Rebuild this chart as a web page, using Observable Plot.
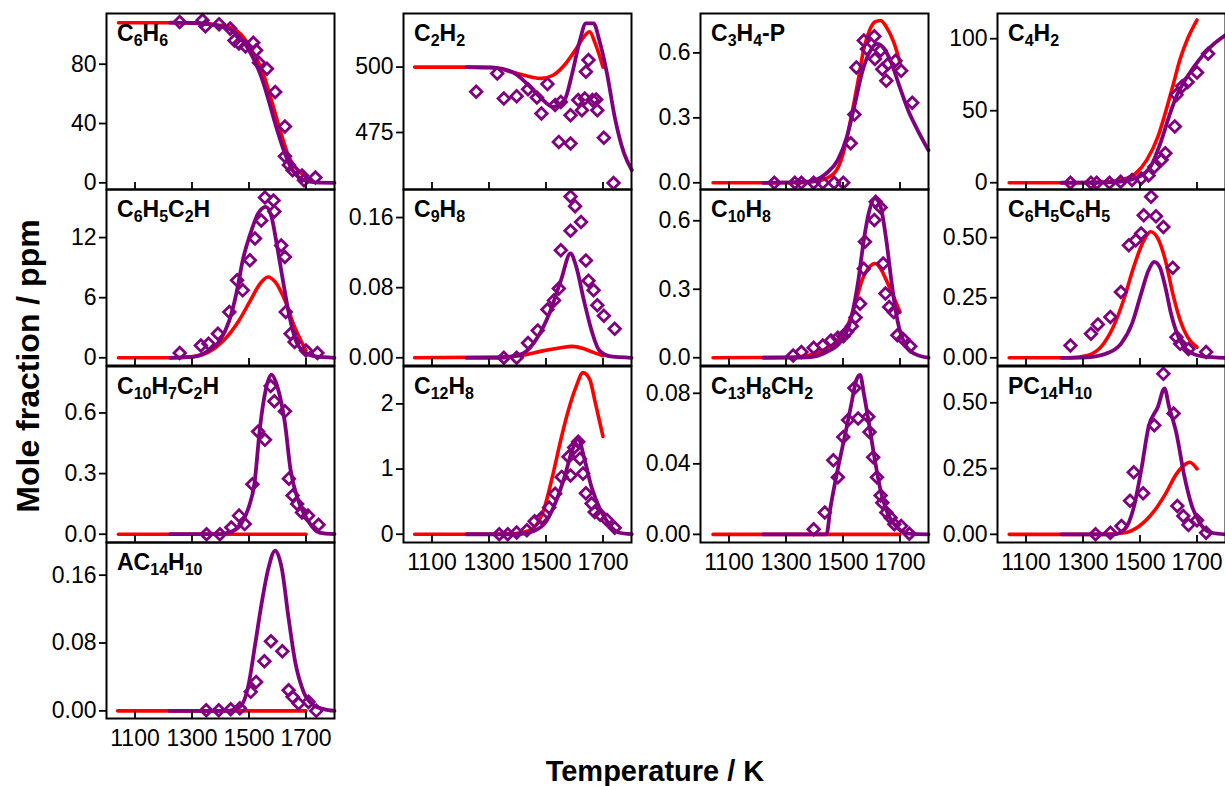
<!DOCTYPE html>
<html><head><meta charset="utf-8">
<script src="https://cdn.jsdelivr.net/npm/d3@7"></script>
<script src="https://cdn.jsdelivr.net/npm/@observablehq/plot@0.6"></script>
<style>
body{margin:0;background:#fff;}
#fig{position:relative;width:1225px;height:786px;overflow:hidden;background:#fff;font-family:"Liberation Sans",Arial,sans-serif;color:#000;}
.panel{position:absolute;}
.title{position:absolute;font-weight:bold;font-size:23px;line-height:23px;white-space:nowrap;}
.title .s{font-size:16px;position:relative;top:5px;}
#ylab{position:absolute;font-weight:bold;font-size:32px;line-height:32px;left:28px;top:366px;transform:translate(-50%,-50%) rotate(-90deg);white-space:nowrap;}
#xlab{position:absolute;font-weight:bold;font-size:29px;line-height:29px;left:655px;top:771px;transform:translate(-50%,-50%);white-space:nowrap;}
</style></head>
<body><div id="fig"></div>
<script>
const titles = ["C_6H_6","C_2H_2","C_3H_4-P","C_4H_2","C_6H_5C_2H","C_9H_8","C_10H_8","C_6H_5C_6H_5","C_10H_7C_2H","C_12H_8","C_13H_8CH_2","PC_14H_10","AC_14H_10"];
const xTicks = [1100,1300,1500,1700];
const xDomain = [1000,1800];
const yTicks = [[0,40,80],[475,500],[0,0.3,0.6],[0,50,100],[0,6,12],[0,0.08,0.16],[0,0.3,0.6],[0,0.25,0.5],[0,0.3,0.6],[0,1,2],[0,0.04,0.08],[0,0.25,0.5],[0,0.08,0.16]];
const yFormats = ["d","d",".1f","d","d",".2f",".1f",".2f",".1f","d",".2f",".2f",".2f"];
const yDomains = [[-4.5,114.2],[453.2,520.5],[-0.031,0.782],[-4.7,117.5],[-0.77,16.8],[-0.0088,0.192],[-0.034,0.737],[-0.032,0.70],[-0.041,0.83],[-0.127,2.574],[-0.0046,0.0952],[-0.031,0.638],[-0.009,0.1985]];
const showXLabels = [false,false,false,false,false,false,false,false,false,true,true,true,true];

// model 1 (red), model 2 (purple), experiment (diamonds): [T (K), mole fraction (ppm)]
const redC6H6 = [[1042,108],[1250,108],[1330,107.6],[1390,106.5],[1438,104.5],[1470,100.5],[1492,95],[1520,86],[1546,76],[1566,64],[1586,51],[1613,33],[1640,17.5],[1660,11],[1680,7],[1700,4]];
const purC6H6 = [[1223,108],[1300,107.8],[1380,106.3],[1438,103],[1470,98],[1492,92],[1515,84],[1539,73.7],[1556,64],[1572,53.5],[1599,35.5],[1626,19.8],[1653,8.5],[1673,4],[1693,1.8],[1733,0.3],[1800,0]];
const expC6H6 = [[1257,108.5],[1337,109.6],[1347,105.6],[1395,107],[1434,104],[1449,96],[1465,94],[1488,92],[1515,94.4],[1525,89.4],[1535,81],[1563,77],[1592,61.3],[1626,38],[1626,18],[1640,12],[1653,8.5],[1686,5],[1693,1.8],[1733,3.6]];

const redC2H2 = [[1039,500],[1215,500],[1309,499.9],[1377,498.2],[1444,496.3],[1484,495.7],[1525,496.9],[1565,500.8],[1606,507],[1633,511.6],[1653,513.5],[1673,509],[1700,500]];
const purC2H2 = [[1221,500],[1323,499.7],[1390,497.6],[1444,492.5],[1484,488],[1525,484.8],[1565,487.4],[1592,497.6],[1619,510.3],[1640,516.7],[1667,516.7],[1687,510.3],[1714,497.6],[1741,481],[1774,467],[1801,460.6]];
const expC2H2 = [[1255,490.6],[1329,497.6],[1352,488],[1397,488.9],[1437,491.5],[1468,488.4],[1484,482.3],[1505,493.5],[1532,485.5],[1552,486.7],[1545,471.4],[1586,481.6],[1586,470.8],[1613,487.4],[1626,483.5],[1636,488],[1649,502.7],[1640,498.2],[1663,487.4],[1676,487.6],[1680,483.5],[1703,473],[1737,455.7]];

const redC3H4 = [[1044,0],[1351,0],[1416,0.009],[1469,0.044],[1501,0.137],[1527,0.292],[1554,0.479],[1573,0.618],[1593,0.704],[1612,0.743],[1632,0.75],[1652,0.72],[1678,0.65],[1700,0.556]];
const purC3H4 = [[1220,0],[1377,0.005],[1442,0.044],[1482,0.106],[1514,0.214],[1540,0.354],[1567,0.51],[1593,0.603],[1619,0.642],[1645,0.618],[1671,0.55],[1697,0.45],[1730,0.33],[1763,0.24],[1800,0.15]];
const expC3H4 = [[1259,0],[1331,0],[1354,0],[1397,0],[1429,0],[1469,0],[1501,0],[1527,0.183],[1540,0.315],[1547,0.533],[1573,0.657],[1584,0.618],[1610,0.677],[1612,0.572],[1632,0.611],[1638,0.525],[1652,0.471],[1658,0.549],[1684,0.564],[1704,0.517],[1743,0.37]];

const redC4H2 = [[1041,0],[1300,0],[1380,0.4],[1432,1.9],[1485,6.5],[1524,15.9],[1563,32],[1589,48.6],[1615,67],[1641,86],[1667,100],[1693,110.5],[1700,113]];
const purC4H2 = [[1224,0],[1380,0.2],[1432,0.7],[1498,4.2],[1537,11.2],[1576,30],[1602,46],[1628,60],[1667,74],[1706,85],[1746,94],[1800,102.5]];
const expC4H2 = [[1256,0],[1328,0],[1348,0],[1393,0],[1432,0.7],[1472,1.9],[1504,3],[1530,5],[1550,11],[1576,16],[1589,20.5],[1622,39],[1628,61],[1648,67],[1667,70],[1700,76.5],[1739,89.5]];

const redC6H5C2H = [[1042,0],[1223,0],[1304,0.13],[1358,0.57],[1411,1.73],[1465,3.73],[1505,5.73],[1539,7.4],[1566,8.07],[1592,7.57],[1626,5.73],[1660,3.07],[1700,0.73]];
const purC6H5C2H = [[1223,0],[1304,0.1],[1358,0.73],[1398,1.73],[1431,3.73],[1458,6.73],[1478,9.73],[1505,12.4],[1532,14.4],[1559,15.07],[1579,14.07],[1599,11.07],[1619,7.73],[1640,4.4],[1660,2.07],[1693,0.57],[1733,0.13],[1800,0]];
const expC6H5C2H = [[1257,0.47],[1331,1.23],[1358,1.4],[1391,2.4],[1431,4.57],[1458,7.73],[1478,6.73],[1503,9.73],[1521,11.9],[1543,13.7],[1556,16],[1586,15.7],[1589,14.6],[1613,11.2],[1626,10.07],[1629,4.57],[1646,2.4],[1660,1.57],[1700,0.73],[1740,0.47]];

const redC9H8 = [[1039,0],[1336,0.0008],[1417,0.0027],[1484,0.0076],[1552,0.0114],[1592,0.013],[1633,0.0103],[1673,0.0053],[1700,0.0023]];
const purC9H8 = [[1221,0],[1336,0],[1417,0.0046],[1471,0.0236],[1511,0.05],[1552,0.088],[1586,0.119],[1606,0.104],[1633,0.0655],[1660,0.031],[1687,0.0084],[1727,0.0015],[1800,0]];
const expC9H8 = [[1352,0],[1397,0],[1437,0.0168],[1471,0.031],[1505,0.055],[1528,0.0655],[1545,0.079],[1552,0.1227],[1586,0.145],[1586,0.184],[1602,0.173],[1623,0.155],[1640,0.111],[1649,0.088],[1667,0.077],[1680,0.06],[1703,0.048],[1741,0.033]];

const redC10H8 = [[1044,0],[1312,0.002],[1377,0.01],[1442,0.04],[1482,0.076],[1514,0.135],[1540,0.222],[1567,0.34],[1593,0.398],[1612,0.413],[1632,0.39],[1652,0.34],[1678,0.266],[1700,0.2]];
const purC10H8 = [[1220,0],[1377,0.002],[1442,0.025],[1495,0.076],[1527,0.164],[1554,0.34],[1573,0.515],[1593,0.647],[1612,0.698],[1632,0.661],[1652,0.515],[1671,0.325],[1691,0.164],[1717,0.061],[1750,0.018],[1800,0]];
const expC10H8 = [[1325,0.01],[1354,0.025],[1397,0.044],[1429,0.054],[1458,0.076],[1482,0.088],[1501,0.094],[1514,0.113],[1531,0.138],[1544,0.176],[1560,0.237],[1573,0.39],[1577,0.508],[1610,0.603],[1615,0.683],[1632,0.658],[1641,0.413],[1649,0.281],[1662,0.222],[1678,0.2],[1691,0.098],[1710,0.083],[1736,0.05]];

const redC6H5C6H5 = [[1041,0],[1250,0],[1315,0.01],[1367,0.051],[1406,0.128],[1446,0.253],[1478,0.378],[1511,0.482],[1537,0.524],[1563,0.496],[1589,0.406],[1615,0.267],[1641,0.156],[1667,0.086],[1700,0.044]];
const purC6H5C6H5 = [[1224,0],[1315,0.002],[1380,0.017],[1433,0.058],[1472,0.142],[1504,0.267],[1530,0.364],[1550,0.399],[1569,0.378],[1589,0.294],[1609,0.183],[1635,0.086],[1667,0.031],[1719,0.006],[1800,0]];
const expC6H5C6H5 = [[1256,0.051],[1328,0.1],[1352,0.139],[1396,0.17],[1433,0.274],[1461,0.468],[1485,0.489],[1504,0.517],[1513,0.593],[1539,0.67],[1556,0.589],[1582,0.544],[1615,0.375],[1628,0.086],[1641,0.058],[1670,0.037],[1732,0.024]];

const redC10H7C2H = [[1042,0],[1700,0]];
const purC10H7C2H = [[1223,0],[1398,0],[1438,0.013],[1472,0.05],[1499,0.133],[1519,0.25],[1539,0.533],[1559,0.717],[1579,0.79],[1599,0.733],[1626,0.55],[1646,0.317],[1673,0.167],[1707,0.067],[1747,0.008],[1800,0]];
const expC10H7C2H = [[1351,0],[1398,0],[1438,0.033],[1465,0.092],[1485,0.05],[1512,0.247],[1532,0.508],[1556,0.467],[1576,0.733],[1589,0.658],[1626,0.608],[1640,0.275],[1653,0.192],[1669,0.15],[1686,0.108],[1707,0.092],[1744,0.047]];

const redC12H8 = [[1039,0],[1336,0],[1417,0.026],[1457,0.1],[1491,0.36],[1525,0.93],[1552,1.45],[1579,1.91],[1606,2.27],[1630,2.48],[1653,2.38],[1673,2.02],[1700,1.5]];
const purC12H8 = [[1221,0],[1403,0],[1457,0.05],[1498,0.18],[1532,0.47],[1565,0.88],[1592,1.29],[1613,1.47],[1633,1.19],[1660,0.72],[1687,0.41],[1721,0.155],[1754,0.026],[1801,0]];
const expC12H8 = [[1336,0],[1366,0],[1397,0.026],[1433,0.062],[1460,0.2],[1484,0.25],[1511,0.41],[1532,0.62],[1555,0.88],[1579,1.19],[1586,0.9],[1599,1.33],[1613,1.42],[1619,1.16],[1630,0.93],[1640,0.63],[1660,0.47],[1671,0.34],[1690,0.3],[1714,0.22],[1741,0.1]];

const redC13H8CH2 = [[1044,0],[1700,0]];
const purC13H8CH2 = [[1220,0],[1442,0],[1456,0.0152],[1469,0.0267],[1488,0.042],[1508,0.057],[1527,0.072],[1547,0.0876],[1560,0.0905],[1573,0.08],[1593,0.061],[1612,0.042],[1632,0.0248],[1658,0.0114],[1691,0.0038],[1730,0.0004],[1800,0]];
const expC13H8CH2 = [[1397,0.0029],[1436,0.0124],[1466,0.042],[1482,0.0324],[1501,0.0552],[1518,0.0648],[1540,0.083],[1553,0.0657],[1589,0.0667],[1593,0.058],[1606,0.0438],[1619,0.0324],[1632,0.022],[1638,0.018],[1652,0.0124],[1667,0.0095],[1680,0.0057],[1704,0.0048],[1733,0.0004]];

const redPC14H10 = [[1041,0],[1380,0],[1446,0.006],[1498,0.032],[1550,0.089],[1589,0.153],[1628,0.23],[1661,0.268],[1674,0.274],[1700,0.249]];
const purPC14H10 = [[1224,0],[1406,0],[1446,0.019],[1478,0.102],[1504,0.242],[1530,0.408],[1563,0.485],[1586,0.555],[1602,0.485],[1628,0.383],[1654,0.23],[1680,0.115],[1713,0.038],[1752,0.006],[1800,0]];
const expPC14H10 = [[1344,0],[1396,0.006],[1435,0.032],[1465,0.128],[1478,0.236],[1511,0.156],[1550,0.415],[1582,0.61],[1618,0.459],[1631,0.108],[1652,0.07],[1670,0.036],[1700,0.054],[1732,0.006]];

const redAC14H10 = [[1039,0],[1700,0]];
const purAC14H10 = [[1221,0],[1421,0],[1468,0.0047],[1498,0.03],[1521,0.077],[1545,0.128],[1568,0.168],[1592,0.189],[1615,0.168],[1639,0.109],[1662,0.058],[1692,0.022],[1727,0.0067],[1762,0.002],[1800,0]];
const expAC14H10 = [[1350,0.0008],[1394,0.0008],[1436,0.002],[1468,0.003],[1506,0.0224],[1525,0.034],[1554,0.0586],[1577,0.082],[1617,0.0703],[1639,0.0244],[1653,0.0165],[1674,0.0086],[1709,0.0106],[1736,0]];

const redSeries = [redC6H6,redC2H2,redC3H4,redC4H2,redC6H5C2H,redC9H8,redC10H8,redC6H5C6H5,redC10H7C2H,redC12H8,redC13H8CH2,redPC14H10,redAC14H10];
const purSeries = [purC6H6,purC2H2,purC3H4,purC4H2,purC6H5C2H,purC9H8,purC10H8,purC6H5C6H5,purC10H7C2H,purC12H8,purC13H8CH2,purPC14H10,purAC14H10];
const expSeries = [expC6H6,expC2H2,expC3H4,expC4H2,expC6H5C2H,expC9H8,expC10H8,expC6H5C6H5,expC10H7C2H,expC12H8,expC13H8CH2,expPC14H10,expAC14H10];

const RED = "#ff0000", PURPLE = "#800080";
const fig = document.getElementById("fig");
const FW = 228, FH = 176;

titles.forEach((t, i) => {
  const c = i % 4, r = Math.floor(i / 4);
  const fl = 106 + 297 * c, ft = 12.5 + 176.5 * r;
  const bottom = showXLabels[i];
  const ml = 80, mr = 12, mt = 14, mb = bottom ? 45 : 14;
  const marks = [
    Plot.line(redSeries[i], {x: d => d[0], y: d => d[1], stroke: RED, strokeWidth: 3.6, curve: "monotone-x"}),
    Plot.line(purSeries[i], {x: d => d[0], y: d => d[1], stroke: PURPLE, strokeWidth: 3.8, curve: "monotone-x"}),
    Plot.dot(expSeries[i], {x: d => d[0], y: d => d[1], symbol: "diamond2", r: 5.2, stroke: PURPLE, strokeWidth: 2.8, fill: "none"}),
    Plot.ruleX(xTicks, {x: d => d, insetTop: FH - 7, stroke: "black", strokeWidth: 1.8}),
    Plot.axisY({ticks: yTicks[i], tickFormat: yFormats[i], tickSize: 7, tickPadding: 3, strokeWidth: 1.8, fontSize: 23, label: null}),
    Plot.frame({stroke: "black", strokeWidth: 2})
  ];
  if (bottom) marks.push(Plot.axisX({ticks: xTicks, tickFormat: "d", tickSize: 0, tickPadding: 11, fontSize: 23, label: null}));
  const svg = Plot.plot({
    width: ml + FW + mr, height: mt + FH + mb,
    marginLeft: ml, marginRight: mr, marginTop: mt, marginBottom: mb,
    style: {background: "transparent", overflow: "visible", fontFamily: "'Liberation Sans', Arial, sans-serif", fontSize: "23px", color: "black"},
    x: bottom ? {domain: xDomain} : {domain: xDomain, axis: null},
    y: {domain: yDomains[i]},
    marks
  });
  svg.classList.add("panel");
  svg.style.left = (fl - ml) + "px";
  svg.style.top = (ft - mt) + "px";
  svg.style.maxWidth = "none";
  fig.appendChild(svg);
  const div = document.createElement("div");
  div.className = "title";
  div.innerHTML = t.replace(/_(\d+)/g, '<span class="s">$1</span>');
  div.style.left = (fl + 11) + "px";
  div.style.top = (ft + 9) + "px";
  fig.appendChild(div);
});

const yl = document.createElement("div"); yl.id = "ylab"; yl.textContent = "Mole fraction / ppm"; fig.appendChild(yl);
const xl = document.createElement("div"); xl.id = "xlab"; xl.textContent = "Temperature / K"; fig.appendChild(xl);
</script>
</body></html>
